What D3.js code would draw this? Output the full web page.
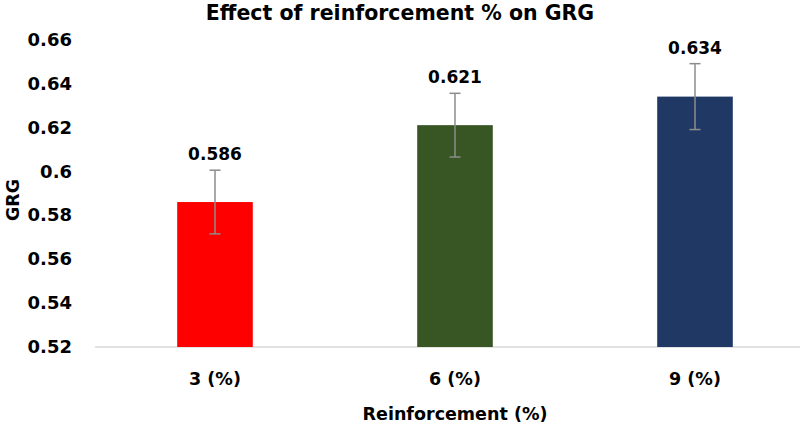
<!DOCTYPE html>
<html>
<head>
<meta charset="utf-8">
<script src="https://cdn.jsdelivr.net/npm/d3@7"></script>
<style>
  body { margin: 0; background: #fff; }
  svg { font-family: "DejaVu Sans", sans-serif; font-weight: bold; }
</style>
</head>
<body>
<div id="chart"></div>
<script>
const categories = ["3 (%)", "6 (%)", "9 (%)"];
const values = [0.586, 0.621, 0.634];
const errors = [0.0145, 0.0145, 0.015];
const barColors = ["#ff0000", "#375623", "#203864"];
const yTicks = [0.52, 0.54, 0.56, 0.58, 0.6, 0.62, 0.64, 0.66];

const width = 800, height = 427;
const margin = { left: 95, right: -15, top: 39.5, bottom: 80 };

const svg = d3.select("#chart").append("svg")
  .attr("width", width).attr("height", height);

const x = d3.scaleBand().domain(categories)
  .range([margin.left, width - margin.right])
  .paddingInner(0.685).paddingOuter(0.3425);

const y = d3.scaleLinear().domain([0.52, 0.66])
  .range([height - margin.bottom, margin.top]);

// axis line
svg.append("line")
  .attr("x1", margin.left).attr("x2", width)
  .attr("y1", y(0.52)).attr("y2", y(0.52))
  .attr("stroke", "#d9d9d9").attr("stroke-width", 1.5);

// y tick labels
const yAxis = d3.axisLeft(y).tickValues(yTicks).tickSize(0).tickPadding(0)
  .tickFormat(d => d3.format("")(+d.toFixed(2)));
const ya = svg.append("g").attr("transform", `translate(72,0)`).call(yAxis);
ya.select(".domain").remove();
ya.selectAll("text").attr("font-size", 18).attr("font-family", "DejaVu Sans").attr("font-weight", "bold").attr("fill", "#000");

// x tick labels
const xAxis = d3.axisBottom(x).tickSize(0).tickPadding(0);
const xa = svg.append("g").attr("transform", `translate(0,373)`).call(xAxis);
xa.select(".domain").remove();
xa.selectAll("text").attr("font-size", 17.5).attr("font-family", "DejaVu Sans").attr("font-weight", "bold").attr("fill", "#000");

// bars
svg.selectAll("rect.bar").data(values).join("rect")
  .attr("class", "bar")
  .attr("x", (d, i) => x(categories[i]))
  .attr("width", x.bandwidth())
  .attr("y", d => y(d))
  .attr("height", d => y(0.52) - y(d))
  .attr("fill", (d, i) => barColors[i]);

// error bars
const eb = svg.selectAll("g.err").data(values).join("g").attr("class", "err");
eb.each(function (d, i) {
  const g = d3.select(this);
  const cx = x(categories[i]) + x.bandwidth() / 2;
  const hi = y(d + errors[i]), lo = y(d - errors[i]);
  g.append("line").attr("x1", cx).attr("x2", cx).attr("y1", hi).attr("y2", lo);
  g.append("line").attr("x1", cx - 5.5).attr("x2", cx + 5.5).attr("y1", hi).attr("y2", hi);
  g.append("line").attr("x1", cx - 5.5).attr("x2", cx + 5.5).attr("y1", lo).attr("y2", lo);
});
eb.selectAll("line").attr("stroke", "#8c8c8c").attr("stroke-width", 1.5);

// value labels
svg.selectAll("text.val").data(values).join("text")
  .attr("class", "val")
  .attr("x", (d, i) => x(categories[i]) + x.bandwidth() / 2)
  .attr("y", (d, i) => y(d + errors[i]) - 10)
  .attr("text-anchor", "middle")
  .attr("font-size", 17)
  .text(d => d3.format(".3f")(d));

// title
svg.append("text").attr("x", 400).attr("y", 20)
  .attr("text-anchor", "middle").attr("font-size", 20.5)
  .text("Effect of reinforcement % on GRG");

// axis titles
svg.append("text").attr("x", 455).attr("y", 420)
  .attr("text-anchor", "middle").attr("font-size", 17.5)
  .text("Reinforcement (%)");

svg.append("text")
  .attr("transform", `translate(19,200) rotate(-90)`)
  .attr("text-anchor", "middle").attr("font-size", 17.5)
  .text("GRG");
</script>
</body>
</html>
